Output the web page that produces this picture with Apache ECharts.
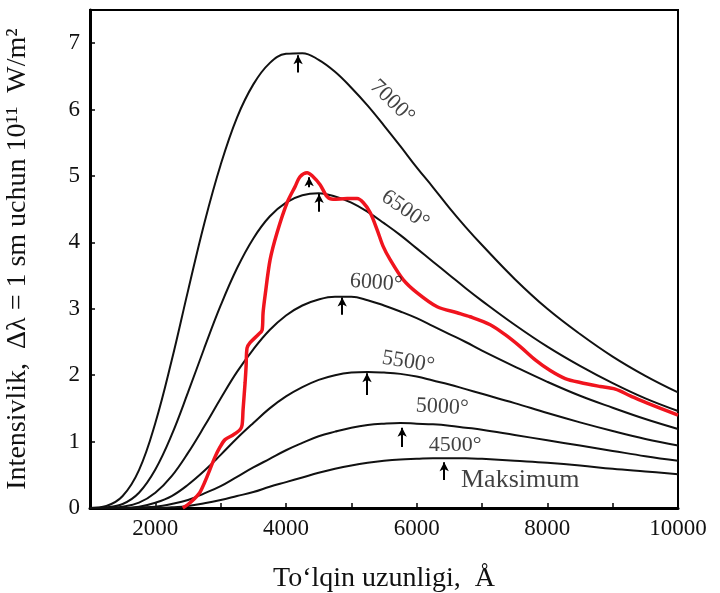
<!DOCTYPE html>
<html><head><meta charset="utf-8">
<script src="https://cdn.jsdelivr.net/npm/echarts@6/dist/echarts.min.js"></script>
<style>html,body{margin:0;padding:0;background:#fff}#c{width:720px;height:593px}</style>
</head><body><div id="c"></div>
<script>
// Wavelength grid (Å) for the black-body curves
const wavelengths = [1000,1250,1500,1750,2000,2250,2500,2750,3000,3250,3500,3750,4000,4250,4500,4750,5000,5250,5500,5750,6000,6250,6500,6750,7000,7500,8000,8500,9000,9500,10000];
// Intensity values, one array per temperature
const t7000 = [0.00,0.03,0.18,0.57,1.28,2.22,3.27,4.29,5.17,5.88,6.38,6.70,6.84,6.85,6.75,6.57,6.33,6.06,5.76,5.45,5.13,4.83,4.52,4.23,3.96,3.45,3.00,2.62,2.28,1.99,1.74];
const t6500 = [0.00,0.01,0.06,0.23,0.58,1.10,1.74,2.41,3.05,3.61,4.06,4.39,4.60,4.71,4.74,4.69,4.60,4.46,4.29,4.11,3.91,3.71,3.51,3.31,3.12,2.76,2.43,2.14,1.88,1.65,1.46];
const t6000 = [0.00,0.00,0.02,0.08,0.23,0.48,0.83,1.23,1.65,2.05,2.39,2.68,2.90,3.05,3.14,3.18,3.18,3.13,3.05,2.96,2.86,2.74,2.62,2.50,2.37,2.13,1.90,1.69,1.51,1.34,1.19];
const t5500 = [0.00,0.00,0.00,0.02,0.08,0.18,0.35,0.56,0.80,1.05,1.28,1.50,1.68,1.82,1.93,2.00,2.04,2.05,2.04,2.02,1.98,1.92,1.86,1.79,1.72,1.58,1.43,1.29,1.16,1.04,0.94];
const t5000 = [0.00,0.00,0.00,0.01,0.02,0.06,0.12,0.22,0.33,0.47,0.61,0.74,0.87,0.98,1.08,1.15,1.21,1.25,1.27,1.28,1.27,1.26,1.24,1.21,1.18,1.10,1.02,0.94,0.86,0.78,0.71];
const t4500 = [0.00,0.00,0.00,0.00,0.00,0.01,0.03,0.07,0.12,0.18,0.24,0.32,0.39,0.46,0.53,0.59,0.64,0.68,0.71,0.73,0.74,0.75,0.75,0.75,0.74,0.71,0.68,0.64,0.59,0.55,0.51];

// Solar spectrum (red curve)
const sunX = [2420,2531,2685,2914,2991,3067,3190,3297,3328,3343,3374,3389,3404,3450,3573,3634,3649,3680,3757,3864,4017,4139,4216,4323,4415,4522,4629,4721,4936,5089,5181,5288,5395,5487,5594,5793,6008,6314,6620,6819,7126,7355,7585,7815,8044,8274,8504,8810,9040,9270,9530,10000];
const sunY = [0.00,0.08,0.24,0.77,0.92,1.03,1.10,1.18,1.25,1.48,1.89,2.13,2.41,2.49,2.61,2.68,2.94,3.20,3.74,4.15,4.60,4.84,4.99,5.05,4.99,4.87,4.69,4.65,4.66,4.66,4.60,4.45,4.19,3.94,3.74,3.44,3.24,3.03,2.94,2.88,2.76,2.61,2.43,2.23,2.07,1.95,1.89,1.83,1.79,1.69,1.58,1.40];

// Curve labels (anchored in data coordinates)
const labelText = ['7000°','6500°','6000°','5500°','5000°','4500°','Maksimum'];
const labelX = [5625,5824,5380,5870,6390,6590,7585];
const labelY = [6.12,4.49,3.39,2.20,1.52,0.94,0.42];

// Peak arrows
const arrowX = [4185,4354,4507,4860,5240,5778,6421];
const arrowFrom = [6.56,4.83,4.46,2.91,1.70,0.92,0.42];
const arrowTo = [6.82,4.98,4.73,3.17,2.03,1.21,0.69];

// Tick labels
const xTickLabels = [2000,4000,6000,8000,10000];
const yTickLabels = [0,1,2,3,4,5,6,7];

const tempSeries = [t7000,t6500,t6000,t5500,t5000,t4500];
const labelRotate = [-44,-35,-4,-9,-3,0,0];
const labelSize = [22,22,22,22,22,22,26];
const serif = 'Liberation Serif';
const ink = '#111';

const chart = echarts.init(document.getElementById('c'));
const series = tempSeries.map((arr, i) => ({
  type: 'line',
  name: labelText[i],
  data: wavelengths.map((w, j) => [w, arr[j]]),
  smooth: 0.4,
  showSymbol: false,
  lineStyle: { color: '#111', width: 2 },
  silent: true,
  z: 2
}));
series.push({
  type: 'line',
  name: 'Quyosh',
  data: sunX.map((w, j) => [w, sunY[j]]),
  smooth: 0.3,
  showSymbol: false,
  lineStyle: { color: '#f0141e', width: 3.5 },
  silent: true,
  z: 3
});
series.push({
  type: 'line',
  name: 'arrows',
  data: [],
  silent: true,
  z: 4,
  markLine: {
    silent: true,
    animation: false,
    symbol: ['none', 'arrow'],
    symbolSize: [7, 9],
    label: { show: false },
    lineStyle: { color: '#000', width: 2, type: 'solid' },
    data: arrowX.map((x, i) => [{ coord: [x, arrowFrom[i]] }, { coord: [x, arrowTo[i]] }])
  }
});
series.push({
  type: 'scatter',
  name: 'labels',
  symbolSize: 1,
  itemStyle: { color: 'rgba(0,0,0,0)' },
  silent: true,
  z: 5,
  data: labelX.map((x, i) => ({ name: labelText[i], value: [x, labelY[i]], label: { rotate: labelRotate[i], fontSize: labelSize[i] } })),
  label: {
    show: true, position: 'inside', formatter: p => p.name,
    fontFamily: serif, fontSize: 22, color: ink
  }
});

chart.setOption({
  animation: false,
  backgroundColor: '#fff',
  grid: { left: 90, right: 42, top: 10, bottom: 85, outerBoundsMode: 'none', containLabel: false, show: true, borderColor: '#000', borderWidth: 2 },
  xAxis: {
    type: 'value', min: 1000, max: 10000, interval: 1000,
    name: 'To‘lqin uzunligi,  Å', nameLocation: 'middle', nameGap: 57,
    nameTextStyle: { fontFamily: serif, fontSize: 28, color: ink },
    axisLine: { lineStyle: { color: '#000', width: 3 } },
    axisTick: { inside: true, length: 5, lineStyle: { color: '#000', width: 1.5 } },
    axisLabel: { formatter: v => xTickLabels.includes(v) ? String(v) : '', fontFamily: serif, fontSize: 23, color: ink, margin: 9 },
    splitLine: { show: false }
  },
  yAxis: {
    type: 'value', min: 0, max: 7.5, interval: 1,
    name: 'Intensivlik,  Δλ = 1 sm uchun 10¹¹  W/m²', nameLocation: 'middle', nameGap: 58, nameRotate: 90,
    nameTextStyle: { fontFamily: serif, fontSize: 28, color: ink },
    axisLine: { lineStyle: { color: '#000', width: 3 } },
    axisTick: { inside: true, length: 5, lineStyle: { color: '#000', width: 1.5 } },
    axisLabel: { formatter: v => yTickLabels.includes(v) ? String(v) : '', fontFamily: serif, fontSize: 23, color: ink, margin: 10 },
    splitLine: { show: false }
  },
  series: series
});
</script></body></html>
